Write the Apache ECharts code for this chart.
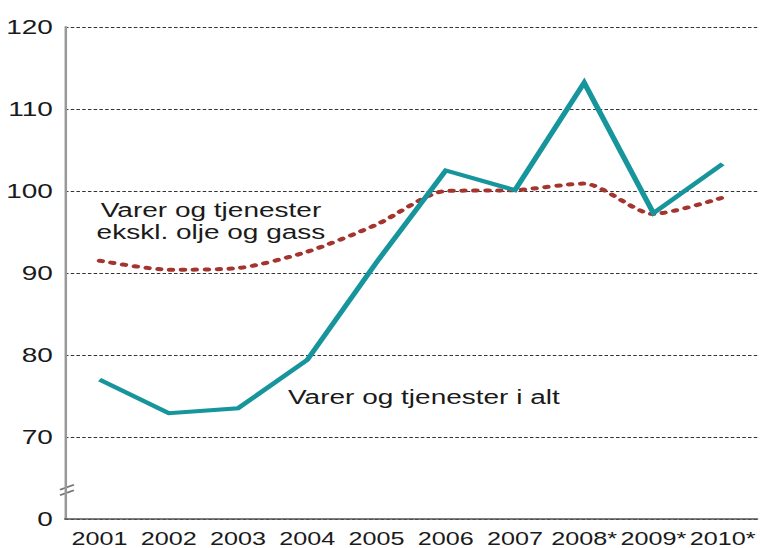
<!DOCTYPE html>
<html>
<head>
<meta charset="utf-8">
<script src="https://cdn.jsdelivr.net/npm/echarts@6.0.0/dist/echarts.min.js"></script>
<style>
	html, body { margin: 0; padding: 0; background: #fff; overflow: hidden; }
	/* the reference is a horizontally stretched picture, so draw narrow and stretch */
	#wrap { width: 760px; height: 548px; overflow: hidden; }
	#id_chart { width: 542.86px; height: 548px; transform: scaleX(1.4); transform-origin: 0 0; }
</style>
</head>
<body>
<div id="wrap"><div id="id_chart"></div></div>
<script>
var years = ["2001", "2002", "2003", "2004", "2005", "2006", "2007", "2008*", "2009*", "2010*"];
// Varer og tjenester i alt
var totalValues = [77.0, 72.9, 73.5, 79.4, 91.3, 102.5, 100.1, 113.2, 97.3, 103.3];
// Varer og tjenester ekskl. olje og gass
var exOilValues = [91.5, 90.4, 90.6, 92.6, 95.9, 100.0, 100.1, 100.9, 97.2, 99.2];
// the bottom of the axis (60) is shown as 0, with a break above it
var yBottom = 60;
var yBreak = 63.6;

var chart = echarts.init(document.getElementById("id_chart"), null, { renderer: "svg" });

var font = "Liberation Sans, Arial, sans-serif";
var colors = ["#17959c", "#a3342e"];

var option = {
	animation: false,
	grid: {
		left: 46.4,
		right: 2.1,
		top: 27,
		bottom: 29
	},
	xAxis: {
		type: "category",
		data: years,
		boundaryGap: true,
		axisLine: {
			lineStyle: { color: "#555", width: 1.5 }
		},
		axisTick: {
			inside: true,
			alignWithLabel: true,
			length: 10,
			lineStyle: { color: "#555", width: 1.5 }
		},
		axisLabel: {
			interval: 0,
			hideOverlap: false,
			color: "#1a1a1a",
			fontFamily: font,
			fontSize: 18,
			margin: 11
		},
		splitLine: { show: false }
	},
	yAxis: {
		type: "value",
		min: yBottom,
		max: 120,
		interval: 10,
		axisLine: {
			show: true,
			lineStyle: { color: "#999", width: 1.8 }
		},
		axisTick: { show: false },
		axisLabel: {
			color: "#1a1a1a",
			fontFamily: font,
			fontSize: 20,
			margin: 8.6,
			formatter: function (v) {
				return v === yBottom ? "0" : String(v);
			}
		},
		splitLine: {
			show: true,
			lineStyle: { color: "#333", width: 1, type: [2.5, 1.6] }
		}
	},
	series: [
		{
			name: "Varer og tjenester ekskl. olje og gass",
			type: "line",
			data: exOilValues,
			showSymbol: false,
			smooth: 0.25,
			lineStyle: {
				color: colors[1],
				width: 4,
				type: [2, 6.5],
				cap: "round"
			},
			z: 2
		},
		{
			name: "Varer og tjenester i alt",
			type: "line",
			data: totalValues,
			showSymbol: false,
			lineStyle: {
				color: colors[0],
				width: 4,
				join: "miter"
			},
			z: 3
		}
	]
};
chart.setOption(option);

// annotations and the axis break marks
var axisX = chart.convertToPixel({ xAxisIndex: 0 }, years[0]) - 24.7;
var breakY = chart.convertToPixel({ yAxisIndex: 0 }, yBreak);

chart.setOption({
	graphic: [
		{
			type: "text",
			x: 150.7,
			y: 221,
			style: {
				text: "Varer og tjenester\nekskl. olje og gass",
				font: "20px " + font,
				fill: "#1a1a1a",
				align: "center",
				verticalAlign: "middle",
				lineHeight: 22
			}
		},
		{
			type: "text",
			x: 205.7,
			y: 397,
			style: {
				text: "Varer og tjenester i alt",
				font: "20px " + font,
				fill: "#1a1a1a",
				align: "left",
				verticalAlign: "middle"
			}
		},
		{
			type: "line",
			shape: { x1: axisX - 3.6, y1: breakY + 0.2, x2: axisX + 6.4, y2: breakY - 4.8 },
			style: { stroke: "#777", lineWidth: 1.6 }
		},
		{
			type: "line",
			shape: { x1: axisX - 3.6, y1: breakY + 5.8, x2: axisX + 6.4, y2: breakY + 0.8 },
			style: { stroke: "#777", lineWidth: 1.6 }
		}
	]
});
</script>
</body>
</html>
